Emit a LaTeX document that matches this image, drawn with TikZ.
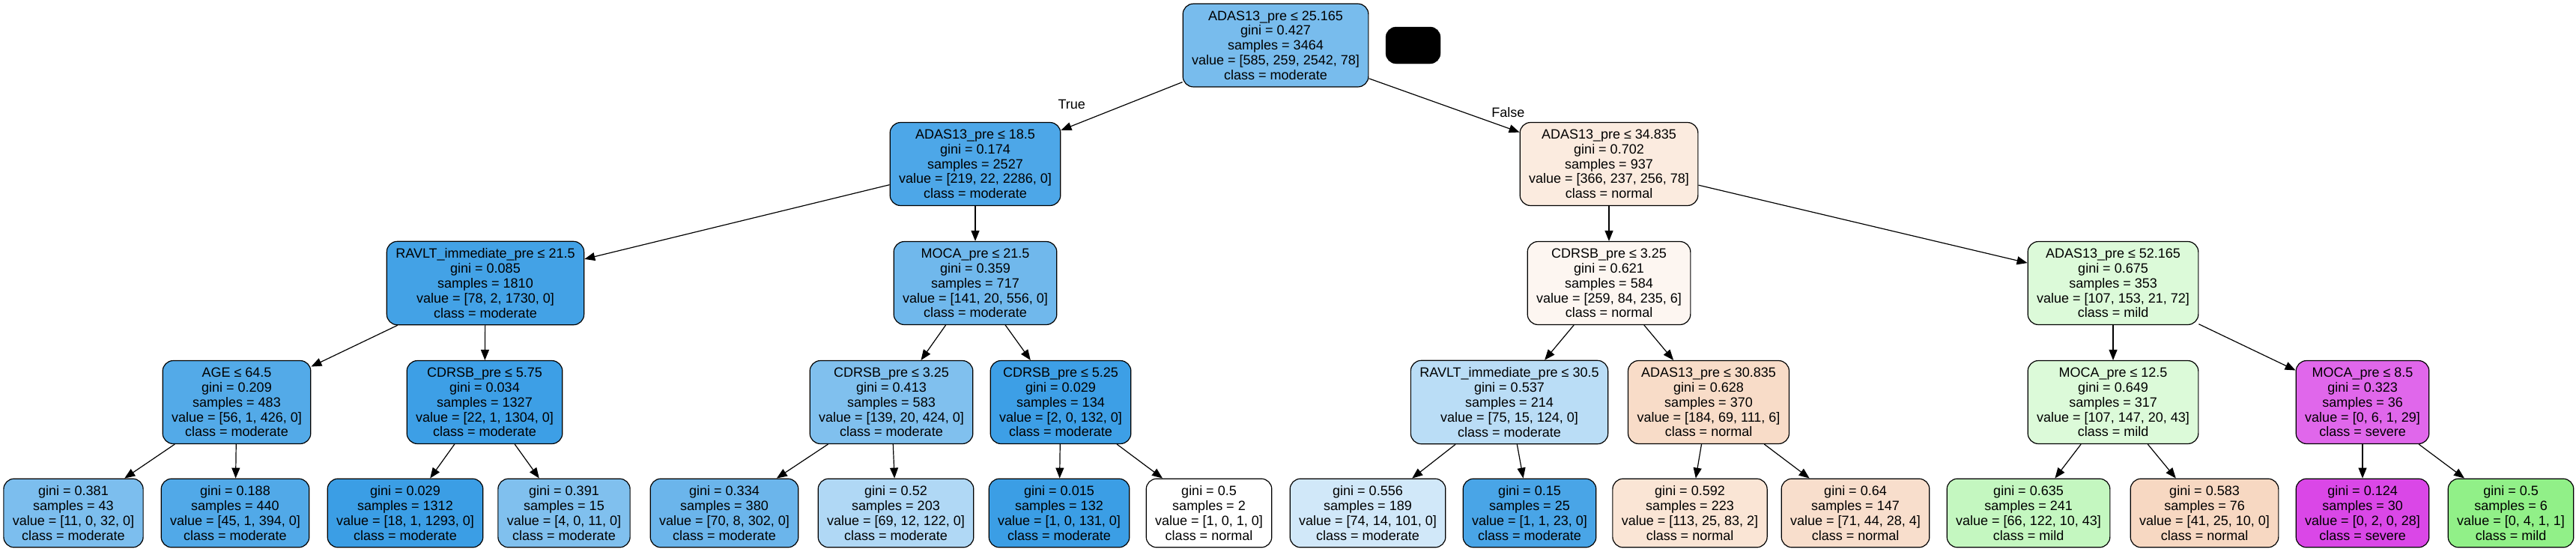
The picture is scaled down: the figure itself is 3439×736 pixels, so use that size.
\documentclass[tikz,border=0pt]{standalone}
\usepackage{fontspec}
\setmainfont{Liberation Sans}
\usepackage{xcolor}
\usetikzlibrary{arrows.meta}

\definecolor{cnormal}{RGB}{229,129,57}
\definecolor{cmild}{RGB}{72,230,57}
\definecolor{cmoderate}{RGB}{57,157,229}
\definecolor{csevere}{RGB}{215,57,229}

\tikzset{
    tnode/.style={draw, line width=1.2pt, rounded corners=14pt, align=center,
        inner xsep=12pt, inner ysep=9.5pt, font=\fontsize{18}{19.8}\selectfont},
    edge/.style={line width=1.2pt, -{Triangle[length=14pt,width=11pt]}},
    elabel/.style={font=\fontsize{18}{19.8}\selectfont}
}

\begin{document}
\begin{tikzpicture}[x=1pt, y=-1pt]
    \useasboundingbox (0,0) rectangle (3439,736);
    % Root level
    \node[tnode, fill=cmoderate!68] (root) at (1703,60.5)
        {ADAS13\_pre ≤ 25.165\\gini = 0.427\\samples = 3464\\value = [585, 259, 2542, 78]\\class = moderate};
    \node[draw, fill=black, rounded corners=14pt, minimum width=73pt, minimum height=49pt] (blot) at (1886.5,60.5) {};
    % First split
    \node[tnode, fill=cmoderate!90] (adasA) at (1302,219)
        {ADAS13\_pre ≤ 18.5\\gini = 0.174\\samples = 2527\\value = [219, 22, 2286, 0]\\class = moderate};
    \node[tnode, fill=cnormal!16] (adasB) at (2148,219)
        {ADAS13\_pre ≤ 34.835\\gini = 0.702\\samples = 937\\value = [366, 237, 256, 78]\\class = normal};
    % Second split
    \node[tnode, fill=cmoderate!95] (ravltA) at (648,378)
        {RAVLT\_immediate\_pre ≤ 21.5\\gini = 0.085\\samples = 1810\\value = [78, 2, 1730, 0]\\class = moderate};
    \node[tnode, fill=cmoderate!72] (mocaA) at (1302,378)
        {MOCA\_pre ≤ 21.5\\gini = 0.359\\samples = 717\\value = [141, 20, 556, 0]\\class = moderate};
    \node[tnode, fill=cnormal!7] (cdrsbA) at (2148,378)
        {CDRSB\_pre ≤ 3.25\\gini = 0.621\\samples = 584\\value = [259, 84, 235, 6]\\class = normal};
    \node[tnode, fill=cmild!19] (adasC) at (2821,378)
        {ADAS13\_pre ≤ 52.165\\gini = 0.675\\samples = 353\\value = [107, 153, 21, 72]\\class = mild};
    % Third split
    \node[tnode, fill=cmoderate!87] (age) at (316,537)
        {AGE ≤ 64.5\\gini = 0.209\\samples = 483\\value = [56, 1, 426, 0]\\class = moderate};
    \node[tnode, fill=cmoderate!98] (cdrsbB) at (647,537)
        {CDRSB\_pre ≤ 5.75\\gini = 0.034\\samples = 1327\\value = [22, 1, 1304, 0]\\class = moderate};
    \node[tnode, fill=cmoderate!64] (cdrsbC) at (1190,537)
        {CDRSB\_pre ≤ 3.25\\gini = 0.413\\samples = 583\\value = [139, 20, 424, 0]\\class = moderate};
    \node[tnode, fill=cmoderate!98] (cdrsbD) at (1416,537)
        {CDRSB\_pre ≤ 5.25\\gini = 0.029\\samples = 134\\value = [2, 0, 132, 0]\\class = moderate};
    \node[tnode, fill=cmoderate!35] (ravltB) at (2015,537)
        {RAVLT\_immediate\_pre ≤ 30.5\\gini = 0.537\\samples = 214\\value = [75, 15, 124, 0]\\class = moderate};
    \node[tnode, fill=cnormal!28] (adasD) at (2281,537)
        {ADAS13\_pre ≤ 30.835\\gini = 0.628\\samples = 370\\value = [184, 69, 111, 6]\\class = normal};
    \node[tnode, fill=cmild!19] (mocaB) at (2821,537)
        {MOCA\_pre ≤ 12.5\\gini = 0.649\\samples = 317\\value = [107, 147, 20, 43]\\class = mild};
    \node[tnode, fill=csevere!77] (mocaC) at (3154,537)
        {MOCA\_pre ≤ 8.5\\gini = 0.323\\samples = 36\\value = [0, 6, 1, 29]\\class = severe};
    % Leaves
    \node[tnode, fill=cmoderate!66] (lf1) at (98,685)
        {gini = 0.381\\samples = 43\\value = [11, 0, 32, 0]\\class = moderate};
    \node[tnode, fill=cmoderate!88] (lf2) at (314,685)
        {gini = 0.188\\samples = 440\\value = [45, 1, 394, 0]\\class = moderate};
    \node[tnode, fill=cmoderate!99] (lf3) at (541,685)
        {gini = 0.029\\samples = 1312\\value = [18, 1, 1293, 0]\\class = moderate};
    \node[tnode, fill=cmoderate!64] (lf4) at (753,685)
        {gini = 0.391\\samples = 15\\value = [4, 0, 11, 0]\\class = moderate};
    \node[tnode, fill=cmoderate!75] (lf5) at (967,685)
        {gini = 0.334\\samples = 380\\value = [70, 8, 302, 0]\\class = moderate};
    \node[tnode, fill=cmoderate!40] (lf6) at (1196,685)
        {gini = 0.52\\samples = 203\\value = [69, 12, 122, 0]\\class = moderate};
    \node[tnode, fill=cmoderate!99] (lf7) at (1414,685)
        {gini = 0.015\\samples = 132\\value = [1, 0, 131, 0]\\class = moderate};
    \node[tnode, fill=white] (lf8) at (1614,685)
        {gini = 0.5\\samples = 2\\value = [1, 0, 1, 0]\\class = normal};
    \node[tnode, fill=cmoderate!23] (lf9) at (1826,685)
        {gini = 0.556\\samples = 189\\value = [74, 14, 101, 0]\\class = moderate};
    \node[tnode, fill=cmoderate!92] (lf10) at (2042,685)
        {gini = 0.15\\samples = 25\\value = [1, 1, 23, 0]\\class = moderate};
    \node[tnode, fill=cnormal!21] (lf11) at (2256,685)
        {gini = 0.592\\samples = 223\\value = [113, 25, 83, 2]\\class = normal};
    \node[tnode, fill=cnormal!26] (lf12) at (2477,685)
        {gini = 0.64\\samples = 147\\value = [71, 44, 28, 4]\\class = normal};
    \node[tnode, fill=cmild!32] (lf13) at (2708,685)
        {gini = 0.635\\samples = 241\\value = [66, 122, 10, 43]\\class = mild};
    \node[tnode, fill=cnormal!31] (lf14) at (2943,685)
        {gini = 0.583\\samples = 76\\value = [41, 25, 10, 0]\\class = normal};
    \node[tnode, fill=csevere!93] (lf15) at (3154,685)
        {gini = 0.124\\samples = 30\\value = [0, 2, 0, 28]\\class = severe};
    \node[tnode, fill=cmild!60] (lf16) at (3352,685)
        {gini = 0.5\\samples = 6\\value = [0, 4, 1, 1]\\class = mild};

    % Connectors
    \draw[edge] (root) -- node[elabel, pos=0.85, xshift=-10pt, yshift=25pt] {True} (adasA);
    \draw[edge] (root) -- node[elabel, pos=0.89, xshift=7pt, yshift=19pt] {False} (adasB);
    \foreach \a/\b in {adasA/ravltA, adasA/mocaA, adasB/cdrsbA, adasB/adasC,
        ravltA/age, ravltA/cdrsbB, mocaA/cdrsbC, mocaA/cdrsbD,
        cdrsbA/ravltB, cdrsbA/adasD, adasC/mocaB, adasC/mocaC,
        age/lf1, age/lf2, cdrsbB/lf3, cdrsbB/lf4, cdrsbC/lf5, cdrsbC/lf6,
        cdrsbD/lf7, cdrsbD/lf8, ravltB/lf9, ravltB/lf10, adasD/lf11, adasD/lf12,
        mocaB/lf13, mocaB/lf14, mocaC/lf15, mocaC/lf16}
        \draw[edge] (\a) -- (\b);
\end{tikzpicture}
\end{document}
